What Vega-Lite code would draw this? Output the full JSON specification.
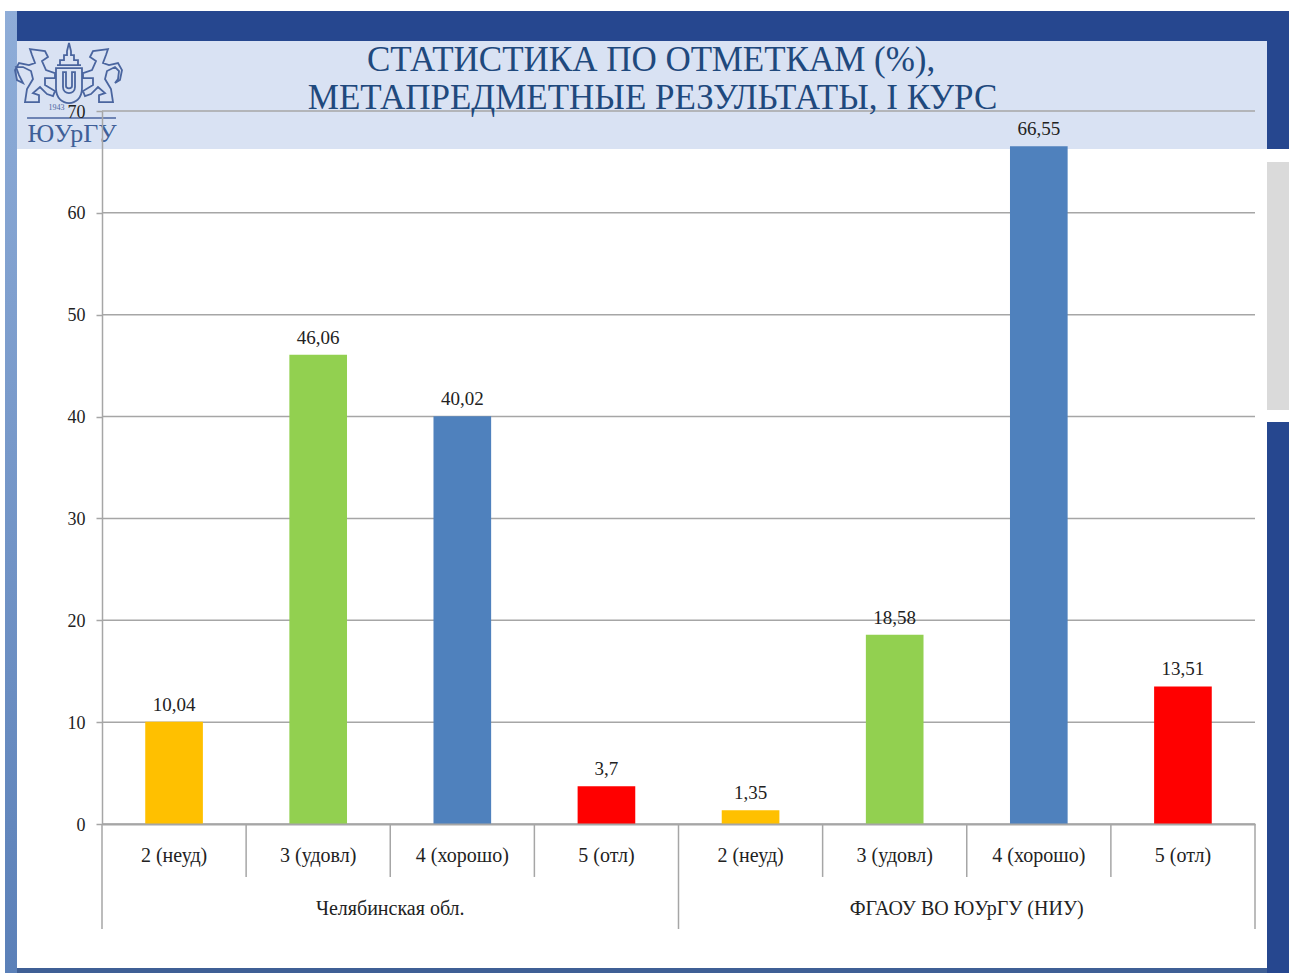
{
"$schema":"https://vega.github.io/schema/vega-lite/v6.json",
"width":1153,"height":713,
"autosize":"none",
"padding":{"left":102,"top":111,"right":34,"bottom":149},
"background":"#ffffff",
"datasets":{
"marks":[
{"key":"a2","group":"Челябинская обл.","grade":"2 (неуд)","value":10.04,"label":"10,04"},
{"key":"a3","group":"Челябинская обл.","grade":"3 (удовл)","value":46.06,"label":"46,06"},
{"key":"a4","group":"Челябинская обл.","grade":"4 (хорошо)","value":40.02,"label":"40,02"},
{"key":"a5","group":"Челябинская обл.","grade":"5 (отл)","value":3.7,"label":"3,7"},
{"key":"b2","group":"ФГАОУ ВО ЮУрГУ  (НИУ)","grade":"2 (неуд)","value":1.35,"label":"1,35"},
{"key":"b3","group":"ФГАОУ ВО ЮУрГУ  (НИУ)","grade":"3 (удовл)","value":18.58,"label":"18,58"},
{"key":"b4","group":"ФГАОУ ВО ЮУрГУ  (НИУ)","grade":"4 (хорошо)","value":66.55,"label":"66,55"},
{"key":"b5","group":"ФГАОУ ВО ЮУрГУ  (НИУ)","grade":"5 (отл)","value":13.51,"label":"13,51"}
],
"groups":[
{"pos":2,"name":"Челябинская обл."},
{"pos":6,"name":"ФГАОУ ВО ЮУрГУ  (НИУ)"}
],
"edges":[{"pos":0},{"pos":4},{"pos":8}],
"minor":[{"pos":1},{"pos":2},{"pos":3},{"pos":5},{"pos":6},{"pos":7}],
"ticks":[{"t":0},{"t":10},{"t":20},{"t":30},{"t":40},{"t":50},{"t":60},{"t":70}],
"dark":[
{"a":-0.5898,"b":8.236,"c":79.815,"d":76.87},
{"a":8.0833,"b":8.236,"c":76.87,"d":66.27},
{"a":8.0833,"b":8.236,"c":39.47,"d":-14.63}
],
"title":[
{"a":3.81,"c":75.0,"line":"СТАТИСТИКА ПО ОТМЕТКАМ (%),"},
{"a":3.82,"c":71.27,"line":"МЕТАПРЕДМЕТНЫЕ РЕЗУЛЬТАТЫ, I КУРС"}
]
},
"layer":[
{"layer":[
{"data":{"values":[{"a":-0.673,"b":-0.5898,"c":79.815,"d":-14.63}]},
 "mark":{"type":"rect","color":{"gradient":"linear","x1":0,"y1":0,"x2":0,"y2":1,"stops":[{"offset":0,"color":"#8fadd8"},{"offset":1,"color":"#5b80b8"}]}},
 "encoding":{"x":{"field":"a","type":"quantitative","scale":{"domain":[0,8],"nice":false,"zero":false},"axis":null},"x2":{"field":"b"},"y":{"field":"c","type":"quantitative","scale":{"domain":[0,70],"nice":false},"axis":null},"y2":{"field":"d"}}},
{"data":{"name":"dark"},
 "mark":{"type":"rect","color":"#26478f"},
 "encoding":{"x":{"field":"a","type":"quantitative","axis":null},"x2":{"field":"b"},"y":{"field":"c","type":"quantitative","axis":null},"y2":{"field":"d"}}},
{"data":{"values":[{"a":-0.5898,"b":8.0833,"c":-14.14,"d":-14.63}]},
 "mark":{"type":"rect","color":"#3f5f95"},
 "encoding":{"x":{"field":"a","type":"quantitative","axis":null},"x2":{"field":"b"},"y":{"field":"c","type":"quantitative","axis":null},"y2":{"field":"d"}}},
{"data":{"values":[{"a":-0.5898,"b":8.0833,"c":76.87,"d":66.27}]},
 "mark":{"type":"rect","color":"#d9e2f3"},
 "encoding":{"x":{"field":"a","type":"quantitative","axis":null},"x2":{"field":"b"},"y":{"field":"c","type":"quantitative","axis":null},"y2":{"field":"d"}}},
{"data":{"values":[{"a":8.0833,"b":8.236,"c":64.99,"d":40.64}]},
 "mark":{"type":"rect","color":"#dadada"},
 "encoding":{"x":{"field":"a","type":"quantitative","axis":null},"x2":{"field":"b"},"y":{"field":"c","type":"quantitative","axis":null},"y2":{"field":"d"}}},
{"data":{"values":[{"a":-0.229,"c":73.53}]},
 "mark":{"type":"point","filled":false,"size":4,"stroke":"#4a659f","strokeWidth":1.8,"opacity":1,
 "shape":"M-13,-7 L13,-7 L13,13 C13,24 6,28 0,28 C-6,28 -13,24 -13,13 Z M-6,-3 L-3,-3 L-3,11 C-3,14 3,14 3,11 L3,-3 L6,-3 L6,12 C6,20 -6,20 -6,12 Z M-12,-10 L12,-10 M-9,-10 L-9,-15 L-5,-15 L-5,-20 L-2,-20 L-2,-24 L0,-32 L2,-24 L2,-20 L5,-20 L5,-15 L9,-15 L9,-10 M-39,-26 L-24,-24 L-21,-18 L-27,-14 L-23,-5 L-14,-2 L-14,3 L-24,3 L-24,10 L-14,16 L-16,21 L-22,19 L-29,12 L-36,18 L-30,20 L-30,27 L-44,27 L-42,14 L-36,4 L-38,-4 L-46,-8 L-53,-8 L-50,0 L-46,8 L-52,5 L-54,-5 L-50,-12 L-40,-10 L-34,-12 L-37,-20 Z M39,-26 L24,-24 L21,-18 L27,-14 L23,-5 L14,-2 L14,3 L24,3 L24,10 L14,16 L16,21 L22,19 L29,12 L36,18 L30,20 L30,27 L44,27 L42,14 L36,4 L38,-4 L46,-8 L50,-4 L49,4 L46,8 L51,5 L53,-5 L49,-12 L40,-10 L34,-12 L37,-20 Z"},
 "encoding":{"x":{"field":"a","type":"quantitative","axis":null},"y":{"field":"c","type":"quantitative","axis":null}}},
{"data":{"values":[{"a":-0.52,"b":0.097,"c":69.31}]},
 "mark":{"type":"rule","color":"#4a659f","strokeWidth":1.5},
 "encoding":{"x":{"field":"a","type":"quantitative","axis":null},"x2":{"field":"b"},"y":{"field":"c","type":"quantitative","axis":null}}},
{"data":{"values":[{"a":-0.208,"c":67.74,"line":"ЮУрГУ"}]},
 "mark":{"type":"text","font":"Liberation Serif","fontSize":26,"color":"#3f5f98","baseline":"middle","align":"center"},
 "encoding":{"x":{"field":"a","type":"quantitative","axis":null},"y":{"field":"c","type":"quantitative","axis":null},"text":{"field":"line"}}},
{"data":{"values":[{"a":-0.315,"c":70.29,"line":"1943"}]},
 "mark":{"type":"text","font":"Liberation Serif","fontSize":8,"color":"#4a659f","baseline":"middle","align":"center"},
 "encoding":{"x":{"field":"a","type":"quantitative","axis":null},"y":{"field":"c","type":"quantitative","axis":null},"text":{"field":"line"}}},
{"data":{"name":"ticks"},
 "mark":{"type":"rule","color":"#a6a6a6","strokeWidth":1.5},
 "encoding":{"x":{"datum":0,"type":"quantitative","axis":null},"x2":{"datum":8},"y":{"field":"t","type":"quantitative","axis":null}}}
]},
{"data":{"name":"marks"},
 "layer":[
 {"mark":{"type":"bar"},
  "encoding":{
  "x":{"field":"key","type":"nominal","sort":null,"scale":{"paddingInner":0.6,"paddingOuter":0.3},
   "axis":{"zindex":1,"title":null,"labelExpr":"datum.label=='a2'||datum.label=='b2'?'2 (неуд)':datum.label=='a3'||datum.label=='b3'?'3 (удовл)':datum.label=='a4'||datum.label=='b4'?'4 (хорошо)':'5 (отл)'","labelAngle":0,"labelFont":"Liberation Serif","labelFontSize":20,"labelColor":"#222222","labelBaseline":"middle","labelPadding":31,"ticks":false,"domainColor":"#a6a6a6","domainWidth":2,"labelOverlap":false}},
  "y":{"field":"value","type":"quantitative","scale":{"domain":[0,70],"nice":false},
   "axis":{"zindex":1,"title":null,"grid":false,"values":[0,10,20,30,40,50,60,70],"labelFont":"Liberation Serif","labelFontSize":18,"labelColor":"#222222","labelPadding":11,"labelOffset":1,"tickSize":6,"tickColor":"#a6a6a6","tickWidth":1.5,"domainColor":"#a6a6a6","domainWidth":1.5}},
  "color":{"field":"grade","type":"nominal","legend":null,"scale":{"domain":["2 (неуд)","3 (удовл)","4 (хорошо)","5 (отл)"],"range":["#ffc000","#92d050","#4f81bd","#ff0000"]}}
  }},
 {"mark":{"type":"text","font":"Liberation Serif","fontSize":19,"color":"#222222","baseline":"middle","align":"center","dy":-17},
  "encoding":{
  "x":{"field":"key","type":"nominal","sort":null,"scale":{"paddingInner":0.6,"paddingOuter":0.3},"axis":null},
  "y":{"field":"value","type":"quantitative","axis":null},
  "text":{"field":"label"}
  }}
 ],
 "resolve":{"axis":{"y":"independent","x":"independent"}}
},
{"layer":[
{"data":{"name":"edges"},
 "mark":{"type":"rule","color":"#a6a6a6","strokeWidth":1.5},
 "encoding":{"x":{"field":"pos","type":"quantitative","scale":{"domain":[0,8],"nice":false,"zero":false},"axis":null},"y":{"datum":0,"type":"quantitative","axis":null},"y2":{"datum":-10.31}}},
{"data":{"name":"minor"},
 "mark":{"type":"rule","color":"#a6a6a6","strokeWidth":1.5},
 "encoding":{"x":{"field":"pos","type":"quantitative","axis":null},"y":{"datum":0,"type":"quantitative","axis":null},"y2":{"datum":-5.2}}},
{"data":{"name":"groups"},
 "mark":{"type":"text","font":"Liberation Serif","fontSize":20,"color":"#222222","baseline":"middle","align":"center"},
 "encoding":{"x":{"field":"pos","type":"quantitative","axis":null},"y":{"datum":-8.35,"type":"quantitative","axis":null},"text":{"field":"name"}}},
{"data":{"name":"title"},
 "mark":{"type":"text","font":"Liberation Serif","fontSize":35,"color":"#1f497d","baseline":"middle","align":"center"},
 "encoding":{"x":{"field":"a","type":"quantitative","axis":null},"y":{"field":"c","type":"quantitative","axis":null},"text":{"field":"line"}}}
]}
],
"resolve":{"scale":{"x":"independent","color":"independent"},"axis":{"x":"independent","y":"independent"}},
"config":{"view":{"stroke":null}}
}
